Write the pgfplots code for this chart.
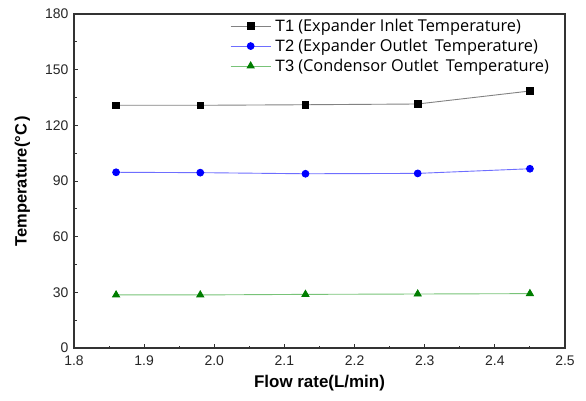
\documentclass[border=0pt]{standalone}
\usepackage{fontspec}
\setmainfont{Liberation Sans}
\newfontfamily\legfont{Open Sans}
\usepackage{pgfplots}
\pgfplotsset{compat=1.18}
\usetikzlibrary{calc}
\definecolor{lineT1}{RGB}{130,130,130}
\definecolor{lineT2}{RGB}{110,110,255}
\definecolor{lineT3}{RGB}{120,195,120}
\definecolor{markT3}{RGB}{0,125,0}
\newcommand{\Tlab}[1]{{\rmfamily\fontsize{16.5}{16}\selectfont #1}\hspace{4bp}}
\begin{document}
\begin{tikzpicture}
\begin{axis}[
  scale only axis,
  width=491bp, height=334bp,
  xmin=1.8, xmax=2.5, ymin=0, ymax=180,
  xtick={1.8,1.9,...,2.5}, ytick={0,30,...,180},
  minor x tick num=1, minor y tick num=1,
  tick align=inside, xtick pos=bottom, ytick pos=left,
  major tick length=4bp, minor tick length=2.5bp,
  axis line style={black!80, line width=1.2bp},
  tick style={black!80, line width=0.9bp},
  /pgf/number format/assume math mode=true,
  xticklabel style={/pgf/number format/.cd, fixed, fixed zerofill, precision=1, /tikz/.cd, yshift=-4bp},
  yticklabel style={/pgf/number format/.cd, fixed, precision=0, /tikz/.cd, xshift=-2bp},
  ticklabel style={font=\fontsize{14}{15}\selectfont, text=black!85},
  xlabel={\textbf{Flow rate(L/min)}},
  ylabel={\textbf{Temperature(°C\,)}},
  xlabel style={font=\fontsize{17}{18}\selectfont, at={(axis description cs:0.5,-0.105)}, anchor=center},
  ylabel style={font=\fontsize{16.5}{18}\selectfont, at={(axis description cs:-0.105,0.5)}, anchor=center},
  legend style={draw=none, fill=none, at={(axis description cs:0.3157,0.991)}, anchor=north west,
    font=\legfont\fontsize{16.4}{17}\selectfont, row sep=4bp, inner sep=1bp,
    nodes={inner xsep=4bp, inner ysep=1bp}},
  legend cell align=left,
  legend image code/.code={\draw[mark repeat=2,mark phase=2,#1] plot coordinates {(0bp,0bp)(20bp,0bp)(40bp,0bp)};},
]
\addplot[color=lineT1, line width=0.9bp, mark=square*, mark size=3.3bp, mark options={draw=black, fill=black}]
  coordinates {(1.86,130.8) (1.98,130.8) (2.13,131.1) (2.29,131.5) (2.45,138.5)};
\addlegendentry{\Tlab{T1}(Expander Inlet Temperature)}
\addplot[color=lineT2, line width=0.9bp, mark=*, mark size=3.4bp, mark options={draw=blue, fill=blue}]
  coordinates {(1.86,94.7) (1.98,94.5) (2.13,93.9) (2.29,94.1) (2.45,96.6)};
\addlegendentry{\Tlab{T2}(Expander Outlet\hspace{3bp} Temperature)}
\addplot[color=lineT3, line width=0.9bp, mark=triangle*, mark size=4bp, mark options={draw=markT3, fill=markT3}]
  coordinates {(1.86,28.6) (1.98,28.6) (2.13,28.9) (2.29,29.1) (2.45,29.3)};
\addlegendentry{\Tlab{T3}(Condensor Outlet\hspace{3bp} Temperature)}
\end{axis}
\path (current axis.south west) ++(-74bp,-53bp) rectangle ($(current axis.north east)+(21bp,14bp)$);
\end{tikzpicture}
\end{document}
